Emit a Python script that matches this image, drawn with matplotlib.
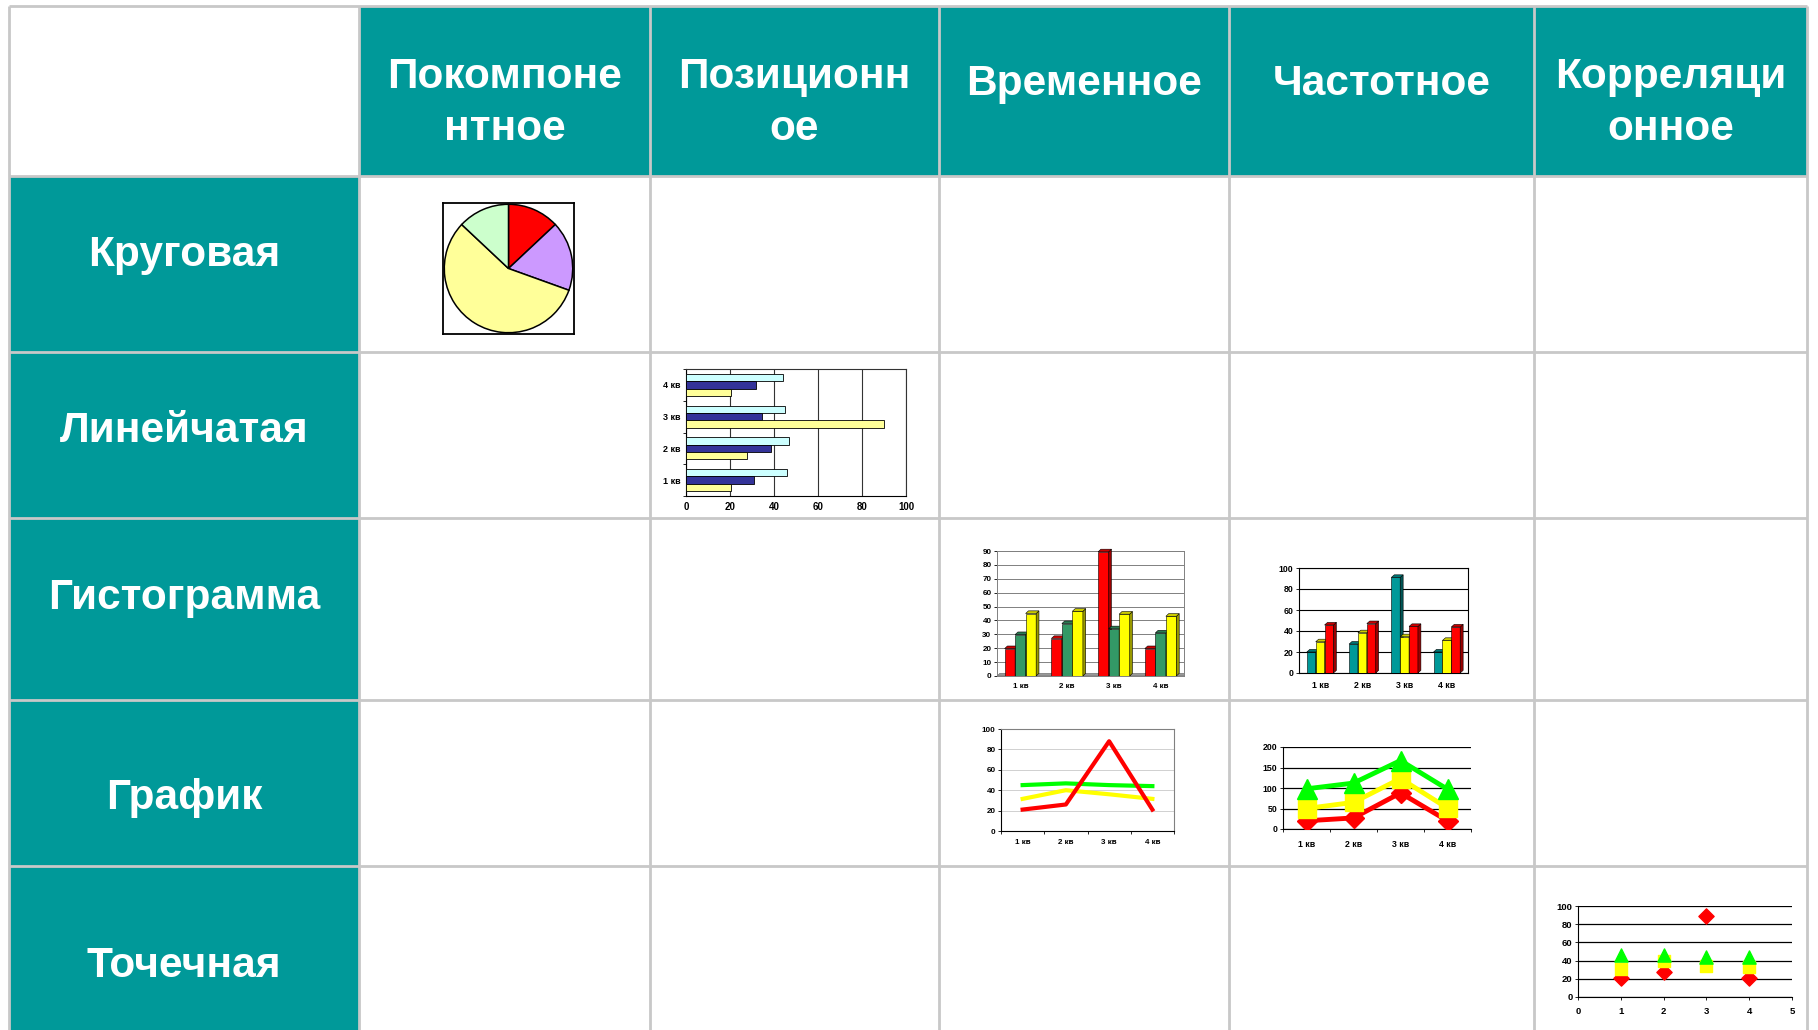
import numpy as np
import matplotlib.pyplot as plt
from matplotlib.patches import Rectangle, Polygon

plt.rcParams['font.family'] = ['Liberation Sans', 'DejaVu Sans']

W, H = 1818, 1030

# подписи таблицы
col_titles = ['Покомпоне\nнтное', 'Позиционн\nое', 'Временное', 'Частотное', 'Корреляци\nонное']
row_titles = ['Круговая', 'Линейчатая', 'Гистограмма', 'График', 'Точечная']
quarters = ['1 кв', '2 кв', '3 кв', '4 кв']

# круговая
pie_vals = [13, 17.5, 56.5, 13]
pie_colors = ['#ff0000', '#cc99ff', '#ffff99', '#ccffcc']

# линейчатая
bar_cyan = [46, 47, 45, 44]
bar_blue = [31, 38.5, 34.5, 32]
bar_yellow = [20.5, 27.5, 90, 20.5]

# гистограмма (временное)
hist1_red = [19.7, 27, 89.4, 19.7]
hist1_green = [29.8, 37.7, 34, 31]
hist1_yellow = [45, 46.6, 44.5, 43]

# гистограмма (частотное)
hist2_teal = [20, 27.5, 91, 20]
hist2_yellow = [29.7, 38.3, 34.5, 31]
hist2_red = [45.7, 47, 44.3, 43.8]

# график (временное)
line1_red = [21, 26, 88, 21]
line1_yellow = [31.5, 40, 36, 31.5]
line1_green = [45, 46.7, 45, 44]

# график (частотное, накопленный)
line2_red = [20, 27, 88, 20]
line2_yellow = [30, 38, 35, 31]
line2_green = [48, 47, 44, 46]

# точечная
scat_x = [1, 2, 3, 4]
scat_red = [21, 27.6, 89, 21]
scat_yellow = [31, 40, 34, 33]
scat_green = [46, 46.7, 44, 44]

TEAL = '#009999'
GRIDC = '#c8c8c8'

fig = plt.figure(figsize=(W / 100, H / 100), dpi=100)
base = fig.add_axes([0, 0, 1, 1])
base.set_xlim(0, W)
base.set_ylim(H, 0)
base.axis('off')

# границы ячеек в пикселях
xs = [9, 359, 650, 939, 1229, 1534, 1807]
ys = [6, 176, 352, 518, 700, 866, 1060]

base.add_patch(Rectangle((xs[1], ys[0]), xs[-1] - xs[1], ys[1] - ys[0], color=TEAL, lw=0))
base.add_patch(Rectangle((xs[0], ys[1]), xs[1] - xs[0], ys[-1] - ys[1], color=TEAL, lw=0))
for x in xs:
    base.plot([x, x], [ys[0], ys[-1]], color=GRIDC, lw=2, solid_capstyle='butt')
for y in ys:
    base.plot([xs[0], xs[-1]], [y, y], color=GRIDC, lw=2, solid_capstyle='butt')

for i, t in enumerate(col_titles):
    cx = (xs[i + 1] + xs[i + 2]) / 2
    yb = 140 if '\n' in t else 95
    base.text(cx, yb, t, color='white', fontsize=30.5, fontweight='bold',
              ha='center', va='baseline', linespacing=1.38)

row_base = [266, 442, 609, 809, 977]
for t, yb in zip(row_titles, row_base):
    base.text((xs[0] + xs[1]) / 2, yb, t, color='white', fontsize=30.5,
              fontweight='bold', ha='center', va='baseline')


def box(x0, y0, x1, y1):
    return fig.add_axes([x0 / W, 1 - y1 / H, (x1 - x0) / W, (y1 - y0) / H])


def small_ticks(ax, size):
    ax.tick_params(which='both', labelsize=size, length=2, width=0.6, pad=2)
    for lab in ax.get_xticklabels(which='both') + ax.get_yticklabels(which='both'):
        lab.set_fontweight('bold')


def quarter_axis(ax):
    ax.set_xlim(0, 4)
    ax.set_xticks(range(5))
    ax.set_xticklabels([])
    ax.set_xticks(np.arange(4) + 0.5, minor=True)
    ax.set_xticklabels(quarters, minor=True)


def bars3d(ax, pos, vals, w, face, side, top, dx, dy):
    ax.bar(pos, vals, w, color=face, edgecolor='black', lw=0.4, zorder=3)
    for p, v in zip(pos, vals):
        r = p + w / 2
        l = p - w / 2
        ax.add_patch(Polygon([(r, 0), (r + dx, dy), (r + dx, v + dy), (r, v)],
                             closed=True, fc=side, ec='black', lw=0.4, zorder=3, clip_on=False))
        ax.add_patch(Polygon([(l, v), (l + dx, v + dy), (r + dx, v + dy), (r, v)],
                             closed=True, fc=top, ec='black', lw=0.4, zorder=3, clip_on=False))


# --- круговая
ax = box(443, 202, 574, 335)
ax.pie(pie_vals, colors=pie_colors, startangle=90, counterclock=False,
       wedgeprops=dict(edgecolor='black', linewidth=1.1))
ax.set_xlim(-1.02, 1.02)
ax.set_ylim(-1.02, 1.02)
ax.set_frame_on(True)
for s in ax.spines.values():
    s.set_linewidth(1.3)
    s.set_color('black')

# --- линейчатая
ax = box(686, 369, 906, 496)
pos = np.arange(4) + 0.5
h = 0.23
ax.barh(pos + h, bar_cyan, h, color='#ccffff', edgecolor='black', lw=0.6, zorder=3)
ax.barh(pos, bar_blue, h, color='#333399', edgecolor='black', lw=0.6, zorder=3)
ax.barh(pos - h, bar_yellow, h, color='#ffff99', edgecolor='black', lw=0.6, zorder=3)
ax.set_xlim(0, 100)
ax.set_ylim(0, 4)
ax.set_xticks(range(0, 101, 20))
ax.set_yticks(range(5))
ax.set_yticklabels([])
ax.set_yticks(pos, minor=True)
ax.set_yticklabels(quarters, minor=True)
ax.grid(axis='x', color='#333333', lw=0.8)
for s in ['top', 'right']:
    ax.spines[s].set_color('#333333')
small_ticks(ax, 7)
ax.tick_params(axis='y', which='minor', length=0, pad=4, labelsize=6.5)
ax.tick_params(axis='x', length=0, pad=4)

# --- гистограмма (временное)
ax = box(997, 551, 1184, 676)
w = 0.225
dx, dy = 0.06, 1.9
ax.add_patch(Polygon([(0, 0), (4, 0), (4 + dx, dy), (dx, dy)], closed=True,
                     fc='#999999', ec='#666666', lw=0.4, zorder=2))
bars3d(ax, pos - w, hist1_red, w, '#ff0000', '#990000', '#cc0000', dx, dy)
bars3d(ax, pos, hist1_green, w, '#339966', '#1f5c3d', '#2a7a52', dx, dy)
bars3d(ax, pos + w, hist1_yellow, w, '#ffff00', '#999900', '#cccc00', dx, dy)
ax.set_ylim(0, 90)
ax.set_yticks(range(0, 91, 10))
quarter_axis(ax)
ax.grid(axis='y', color='#808080', lw=0.7)
for s in ax.spines.values():
    s.set_color('#808080')
    s.set_linewidth(0.7)
small_ticks(ax, 5.8)
ax.tick_params(axis='x', which='both', length=0)
ax.tick_params(axis='x', which='minor', pad=5)

# --- гистограмма (частотное)
ax = box(1299, 568, 1468, 673)
w = 0.21
dx, dy = 0.07, 2.5
bars3d(ax, pos - w, hist2_teal, w, '#009999', '#005555', '#007777', dx, dy)
bars3d(ax, pos, hist2_yellow, w, '#ffff00', '#999900', '#cccc00', dx, dy)
bars3d(ax, pos + w, hist2_red, w, '#ff0000', '#990000', '#cc0000', dx, dy)
ax.set_ylim(0, 100)
ax.set_yticks(range(0, 101, 20))
quarter_axis(ax)
ax.grid(axis='y', color='black', lw=0.8)
small_ticks(ax, 6.3)
ax.tick_params(axis='x', which='both', length=0)
ax.tick_params(axis='x', which='minor', pad=6)

# --- график (временное)
ax = box(1001, 729, 1174, 831)
ax.plot(pos, line1_yellow, color='#ffff00', lw=3)
ax.plot(pos, line1_green, color='#00ff00', lw=3)
ax.plot(pos, line1_red, color='#ff0000', lw=3)
ax.set_ylim(0, 100)
ax.set_yticks(range(0, 101, 20))
quarter_axis(ax)
ax.grid(axis='y', color='#d0d0d0', lw=0.7)
ax.spines['top'].set_color('#808080')
ax.spines['right'].set_color('#808080')
small_ticks(ax, 5.8)
ax.tick_params(axis='x', which='minor', length=0, pad=6)

# --- график (частотное)
ax = box(1283, 747, 1471, 829)
c1 = np.array(line2_red)
c2 = c1 + np.array(line2_yellow)
c3 = c2 + np.array(line2_green)
ax.plot(pos, c1, color='#ff0000', lw=3.5, marker='D', ms=10, zorder=4)
ax.plot(pos, c2, color='#ffff00', lw=3.5, marker='s', ms=13, zorder=4)
ax.plot(pos, c3, color='#00ff00', lw=3.5, marker='^', ms=14, zorder=4)
ax.set_ylim(0, 200)
ax.set_yticks(range(0, 201, 50))
quarter_axis(ax)
ax.grid(axis='y', color='black', lw=0.9)
ax.spines['top'].set_visible(False)
ax.spines['right'].set_visible(False)
small_ticks(ax, 6.3)
ax.tick_params(axis='x', which='minor', length=0, pad=8)

# --- точечная
ax = box(1578, 906, 1792, 997)
ax.scatter(scat_x, scat_red, marker='D', s=60, color='#ff0000', zorder=4)
ax.scatter(scat_x, scat_yellow, marker='s', s=80, color='#ffff00', zorder=4)
ax.scatter(scat_x, scat_green, marker='^', s=90, color='#00ff00', zorder=4)
ax.set_xlim(0, 5)
ax.set_ylim(0, 100)
ax.set_xticks(range(6))
ax.set_yticks(range(0, 101, 20))
ax.grid(axis='y', color='black', lw=0.9)
ax.spines['top'].set_visible(False)
ax.spines['right'].set_visible(False)
small_ticks(ax, 6.8)
ax.tick_params(axis='x', pad=5)

fig.savefig('out.png', dpi=100)
